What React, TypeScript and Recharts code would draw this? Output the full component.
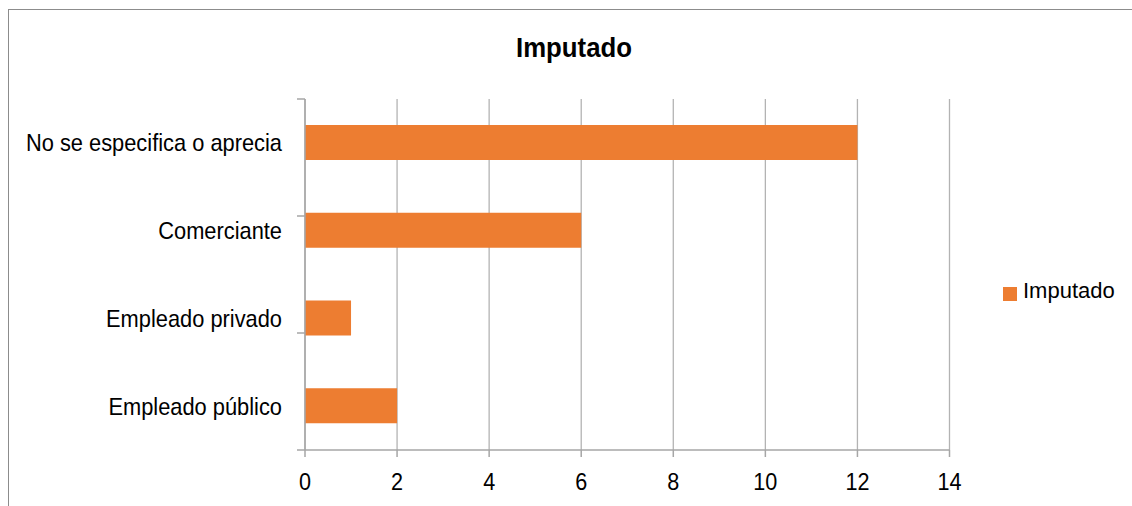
import React from 'react';
import { BarChart, Bar, XAxis, YAxis, CartesianGrid, Legend } from 'recharts';

const categories = ['No se especifica o aprecia', 'Comerciante', 'Empleado privado', 'Empleado público'];
const imputado = [12, 6, 1, 2];
const xTicks = [0, 2, 4, 6, 8, 10, 12, 14];
const bandTicks = [0, 1, 2, 3, 4];

const data = categories.map((c, i) => ({ name: c, Imputado: imputado[i] }));

const FONT = '"Liberation Sans", Arial, sans-serif';
const AXIS = '#a6a6a6';

const CatTick = (props: any) => {
  const { x, y, payload } = props;
  return (
    <text
      transform={`translate(${x},${y}) scale(0.91,1)`}
      textAnchor="end"
      dy="0.355em"
      fill="#000"
      fontSize={24}
      fontFamily={FONT}
    >
      {payload.value}
    </text>
  );
};

const NumTick = (props: any) => {
  const { x, y, payload } = props;
  return (
    <text
      transform={`translate(${x},${y}) scale(0.9,1)`}
      textAnchor="middle"
      dy="0.71em"
      fill="#000"
      fontSize={24}
      fontFamily={FONT}
    >
      {payload.value}
    </text>
  );
};

export default function App() {
  return (
    <div
      style={{
        position: 'fixed',
        left: 0,
        top: 0,
        width: 1132,
        height: 506,
        overflow: 'hidden',
        background: '#fff',
      }}
    >
      <div
        style={{
          position: 'absolute',
          left: 8,
          top: 9,
          width: 1200,
          height: 520,
          border: '1px solid #8c8c8c',
          fontFamily: FONT,
          background: '#fff',
        }}
      >
        <div
          style={{
            position: 'absolute',
            left: 465,
            width: 200,
            top: 24,
            textAlign: 'center',
            fontSize: 28,
            lineHeight: '28px',
            fontWeight: 'bold',
            color: '#000',
            transform: 'scale(0.92,1)',
          }}
        >
          Imputado
        </div>
        <BarChart
          width={1120}
          height={497}
          data={data}
          layout="vertical"
          margin={{ top: 89, right: 49.5, bottom: 7, left: 0 }}
          barCategoryGap={0}
        >
          <CartesianGrid horizontal={false} stroke="#b3b3b3" strokeWidth={1.3} />
          <XAxis
            type="number"
            domain={[0, 14]}
            ticks={xTicks}
            interval={0}
            height={50}
            tickSize={7}
            tickMargin={16}
            stroke={AXIS}
            axisLine={{ stroke: AXIS, strokeWidth: 1.5 }}
            tickLine={{ stroke: AXIS, strokeWidth: 1.5 }}
            tick={<NumTick />}
          />
          <YAxis
            yAxisId="band"
            type="number"
            domain={[0, 4]}
            ticks={bandTicks}
            interval={0}
            width={8}
            tickSize={8}
            tickFormatter={() => ''}
            axisLine={{ stroke: AXIS, strokeWidth: 1.5 }}
            tickLine={{ stroke: AXIS, strokeWidth: 1.5 }}
          />
          <YAxis
            yAxisId="cat"
            type="category"
            dataKey="name"
            width={288}
            tickSize={0}
            tickMargin={15}
            axisLine={false}
            tickLine={false}
            interval={0}
            tick={<CatTick />}
          />
          <Legend
            layout="vertical"
            align="right"
            verticalAlign="middle"
            width={130}
            iconType="square"
            iconSize={14}
            wrapperStyle={{ left: 994, top: 268, right: 'auto' }}
            formatter={(v: string) => (
              <span style={{ color: '#000', fontSize: 22, fontFamily: FONT, marginLeft: 2 }}>{v}</span>
            )}
          />
          <Bar
            yAxisId="cat"
            dataKey="Imputado"
            name="Imputado"
            fill="#ED7D31"
            barSize={35}
            isAnimationActive={false}
          />
        </BarChart>
      </div>
    </div>
  );
}
